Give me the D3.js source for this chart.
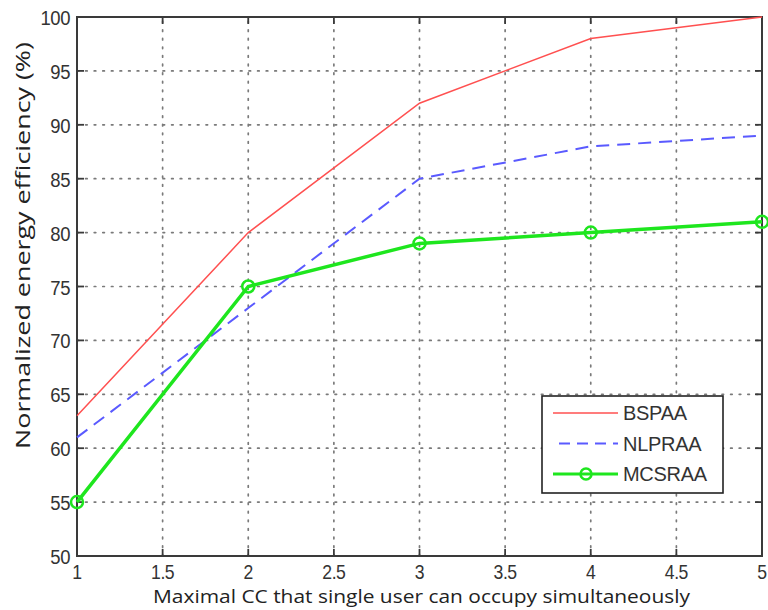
<!DOCTYPE html>
<html>
<head>
<meta charset="utf-8">
<script src="https://cdn.jsdelivr.net/npm/d3@7"></script>
<style>
  body { margin: 0; background: #fff; }
  svg { display: block; }
</style>
</head>
<body>
<div id="chart"></div>
<script>
// Data
const xValues = [1, 2, 3, 4, 5];
const bspaa = [63, 80, 92, 98, 100];
const nlpraa = [61, 73, 85, 88, 89];
const mcsraa = [55, 75, 79, 80, 81];
const xTicks = [1, 1.5, 2, 2.5, 3, 3.5, 4, 4.5, 5];
const yTicks = [50, 55, 60, 65, 70, 75, 80, 85, 90, 95, 100];
const seriesNames = ["BSPAA", "NLPRAA", "MCSRAA"];

const width = 768, height = 610;
const margin = { left: 77, right: 6, top: 17, bottom: 54 };

const svg = d3.select("#chart").append("svg")
  .attr("width", width)
  .attr("height", height);

const x = d3.scaleLinear().domain([1, 5]).range([margin.left, width - margin.right]);
const y = d3.scaleLinear().domain([50, 100]).range([height - margin.bottom, margin.top]);

const x0 = x.range()[0], x1 = x.range()[1];
const y0 = y.range()[0], y1 = y.range()[1];

// dotted grid
const grid = svg.append("g").attr("stroke", "#7a7a7a").attr("stroke-width", 1.7)
  .attr("stroke-dasharray", "1.6,7").attr("stroke-linecap", "round");
grid.selectAll("line.gx").data(xTicks.slice(1, -1)).enter().append("line")
  .attr("x1", d => x(d)).attr("x2", d => x(d)).attr("y1", y0).attr("y2", y1);
grid.selectAll("line.gy").data(yTicks.slice(1, -1)).enter().append("line")
  .attr("x1", x0).attr("x2", x1).attr("y1", d => y(d)).attr("y2", d => y(d));

// box + inward ticks (matlab style)
const axisColor = "#3a3a3a";
svg.append("rect")
  .attr("x", x0).attr("y", y1).attr("width", x1 - x0).attr("height", y0 - y1)
  .attr("fill", "none").attr("stroke", axisColor).attr("stroke-width", 2);

const tickLen = 7;
const ticks = svg.append("g").attr("stroke", axisColor).attr("stroke-width", 1.8);
xTicks.forEach(t => {
  ticks.append("line").attr("x1", x(t)).attr("x2", x(t)).attr("y1", y0).attr("y2", y0 - tickLen);
  ticks.append("line").attr("x1", x(t)).attr("x2", x(t)).attr("y1", y1).attr("y2", y1 + tickLen);
});
yTicks.forEach(t => {
  ticks.append("line").attr("x1", x0).attr("x2", x0 + tickLen).attr("y1", y(t)).attr("y2", y(t));
  ticks.append("line").attr("x1", x1).attr("x2", x1 - tickLen).attr("y1", y(t)).attr("y2", y(t));
});

// tick labels (tall, narrow digits like the original)
const tickFont = "'Liberation Sans', Arial, sans-serif";
svg.append("g").selectAll("text").data(xTicks).enter().append("text")
  .attr("transform", d => `translate(${x(d)},${y0 + 23}) scale(0.88,1)`)
  .attr("text-anchor", "middle")
  .attr("font-family", tickFont).attr("font-size", 20).attr("letter-spacing", -0.5)
  .attr("fill", "#333")
  .text(d => d);

svg.append("g").selectAll("text").data(yTicks).enter().append("text")
  .attr("transform", d => `translate(${x0 - 7},${y(d) + 8}) scale(0.88,1)`)
  .attr("text-anchor", "end")
  .attr("font-family", tickFont).attr("font-size", 21).attr("letter-spacing", -0.5)
  .attr("fill", "#333")
  .text(d => d);

// axis titles
const titleFont = "'Open Sans', 'Noto Sans', sans-serif";
svg.append("text")
  .attr("x", 153).attr("y", 603)
  .attr("textLength", 537).attr("lengthAdjust", "spacingAndGlyphs")
  .attr("font-family", titleFont).attr("font-size", 19).attr("fill", "#222")
  .text("Maximal CC that single user can occupy simultaneously");

svg.append("text")
  .attr("transform", "translate(30,449) rotate(-90)")
  .attr("textLength", 407).attr("lengthAdjust", "spacingAndGlyphs")
  .attr("font-family", titleFont).attr("font-size", 20).attr("fill", "#222")
  .text("Normalized energy efficiency (%)");

// lines
const line = d3.line().x((d, i) => x(xValues[i])).y(d => y(d));

const styles = [
  { data: bspaa, color: "#ff5050", width: 1.5, dash: null },
  { data: nlpraa, color: "#5a5aff", width: 2, dash: "13,8" },
  { data: mcsraa, color: "#1ee61e", width: 3.5, dash: null }
];

const plot = svg.append("g");
styles.forEach(s => {
  plot.append("path").datum(s.data)
    .attr("d", line)
    .attr("fill", "none")
    .attr("stroke", s.color)
    .attr("stroke-width", s.width)
    .attr("stroke-dasharray", s.dash);
});

// markers for MCSRAA
plot.selectAll("circle.m").data(mcsraa).enter().append("circle")
  .attr("cx", (d, i) => x(xValues[i])).attr("cy", d => y(d))
  .attr("r", 6)
  .attr("fill", "none").attr("stroke", "#1ee61e").attr("stroke-width", 2.5);

// legend
const legend = svg.append("g");
legend.append("rect")
  .attr("x", 542).attr("y", 396).attr("width", 181).attr("height", 97)
  .attr("fill", "#fff").attr("stroke", "#222").attr("stroke-width", 1.6);

seriesNames.forEach((name, i) => {
  const ly = 413 + i * 30.5;
  const s = styles[i];
  legend.append("line")
    .attr("x1", 553).attr("x2", 618).attr("y1", ly).attr("y2", ly)
    .attr("stroke", s.color)
    .attr("stroke-width", i === 2 ? 3 : s.width)
    .attr("stroke-dasharray", i === 1 ? "11,7" : null)
    .attr("stroke-dashoffset", i === 1 ? -6 : 0);
  if (i === 2) {
    legend.append("circle").attr("cx", 586).attr("cy", ly).attr("r", 5.5)
      .attr("fill", "none").attr("stroke", s.color).attr("stroke-width", 2.5);
  }
  legend.append("text")
    .attr("x", 623).attr("y", ly + 7)
    .attr("font-family", tickFont).attr("font-size", 20).attr("letter-spacing", -0.3)
    .attr("fill", "#333")
    .text(name);
});
</script>
</body>
</html>
